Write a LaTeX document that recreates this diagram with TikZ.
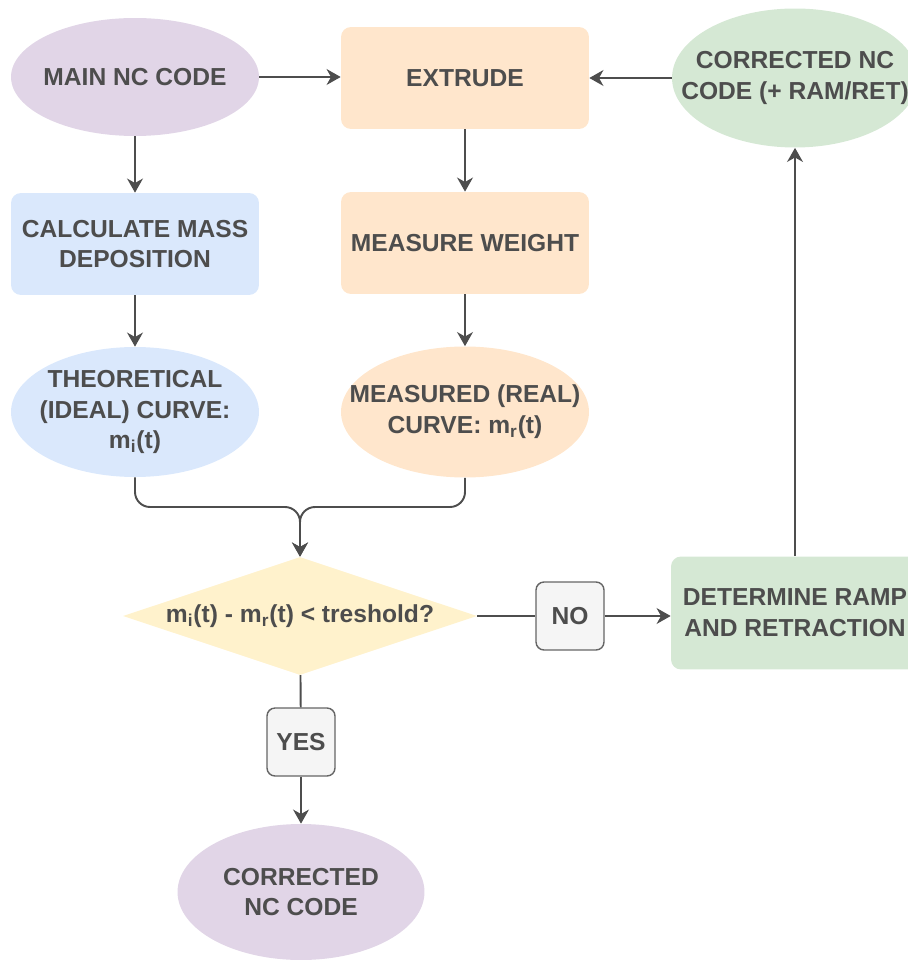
\documentclass[tikz,border=0pt]{standalone}
\usepackage{fontspec}
\setmainfont{Liberation Sans}
\usetikzlibrary{shapes.geometric,arrows.meta,positioning}
\definecolor{lilac}{HTML}{E1D5E7}
\definecolor{peach}{HTML}{FFE6CC}
\definecolor{mint}{HTML}{D5E8D4}
\definecolor{sky}{HTML}{DAE8FC}
\definecolor{cream}{HTML}{FFF2CC}
\definecolor{tagfill}{HTML}{F5F5F5}
\definecolor{tagline}{HTML}{666666}
\definecolor{ink}{HTML}{4D4D4D}

\begin{document}
\begin{tikzpicture}[x=0.02cm, y=-0.02cm]
	\tikzstyle{every node} = [font=\fontsize{14}{17.5}\selectfont\bfseries, text=ink, align=center]
	\tikzstyle{oval} = [ellipse, inner sep=0pt, minimum width=4.96cm]
	\tikzstyle{box} = [rectangle, rounded corners=0.2cm, minimum width=4.96cm, minimum height=2.04cm]
	\tikzstyle{tag} = [rectangle, rounded corners=0.16cm, draw=tagline, fill=tagfill, line width=0.8pt, minimum size=1.36cm]
	\tikzstyle{link} = [draw=ink, line width=1.1pt]
	\tikzstyle{arrow} = [link, -{Stealth[length=8pt, width=9pt, inset=2.5pt]}]
\useasboundingbox (0,0) rectangle (907,962);
% top row
\node[oval, fill=lilac, minimum height=2.36cm, label=center:{MAIN NC CODE}] (main) at (135, 77) {};
\node[box, fill=peach] (extrude) at (465, 78) {EXTRUDE};
\node[oval, fill=mint, minimum width=4.92cm, minimum height=2.78cm, label=center:{CORRECTED NC\\CODE (+ RAM/RET)}] (fixnc) at (795, 78) {};
% second row
\node[box, fill=sky] (calc) at (135, 244) {CALCULATE MASS\\DEPOSITION};
\node[box, fill=peach] (weigh) at (465, 243) {MEASURE WEIGHT};
% curves
\node[oval, fill=sky, minimum height=2.6cm, label=center:{THEORETICAL\\(IDEAL) CURVE:\\m\textsubscript{i}(t)}] (ideal) at (135, 412) {};
\node[oval, fill=peach, minimum height=2.62cm, label=center:{MEASURED (REAL)\\CURVE: m\textsubscript{r}(t)}] (real) at (465, 412) {};
% decision
\node[diamond, fill=cream, inner sep=0pt, minimum width=7.08cm, minimum height=2.36cm, label=center:{m\textsubscript{i}(t) - m\textsubscript{r}(t) < treshold?}] (check) at (300, 616) {};
\node[tag] (no) at (570, 616) {NO};
\node[box, fill=mint, minimum height=2.26cm] (ramp) at (795, 613) {DETERMINE RAMP\\AND RETRACTION};
\node[tag] (yes) at (301, 742) {YES};
\node[oval, fill=lilac, minimum width=4.94cm, minimum height=2.72cm, label=center:{CORRECTED\\NC CODE}] (final) at (301, 892) {};
\coordinate (join) at (300, 507);
	\path[arrow] (main) -- (main -| extrude.west);
	\path[arrow] (fixnc) -- (fixnc -| extrude.east);
	\path[arrow] (main) -- (calc);
	\path[arrow] (extrude) -- (weigh);
	\path[arrow] (calc) -- (ideal);
	\path[arrow] (weigh) -- (real);
	\path[arrow, rounded corners=0.3cm] (ideal.south) |- (join) -- (check.north);
	\path[arrow, rounded corners=0.3cm] (real.south) |- (join) -- (check.north);
	\path[link] (check) -- (no);
	\path[arrow] (no) -- (no -| ramp.west);
	\path[arrow] (ramp) -- (fixnc);
	\path[link] (check) -- (yes);
	\path[arrow] (yes) -- (final);
\end{tikzpicture}
\end{document}
